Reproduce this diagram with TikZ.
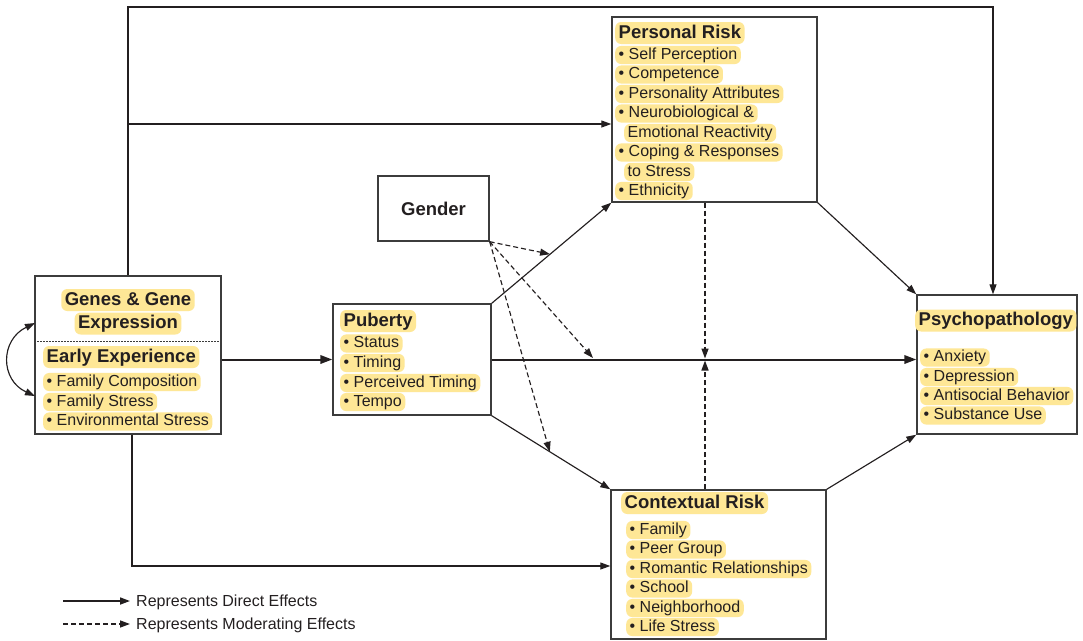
\documentclass[tikz,border=0pt]{standalone}
\usepackage{fontspec}
\setmainfont{Liberation Sans}
\usetikzlibrary{arrows.meta,calc}
\definecolor{hlc}{RGB}{254,231,150}
\definecolor{ink}{RGB}{35,31,32}
\definecolor{edge}{RGB}{60,60,60}
\begin{document}
\begin{tikzpicture}[x=1pt,y=-1pt,
  box/.style={draw=edge,line width=1.4pt,inner sep=0pt,fill=white},
  hl/.style={fill=hlc,rounded corners=6pt,inner xsep=3.5pt,inner ysep=0.8pt,
    text height=12.5pt,text depth=4pt,anchor=west,
    font=\fontsize{16}{19}\selectfont,text=ink},
  hh/.style={hl,font=\fontsize{18.5}{22}\selectfont\bfseries,
    text height=14.5pt,text depth=4.5pt,inner ysep=1.5pt},
  conn/.style={draw=ink,line width=1.15pt,-{Triangle[length=10pt,width=7pt]}},
  main/.style={conn,line width=2pt,-{Triangle[length=12pt,width=8.5pt]}},
  modr/.style={conn,dash pattern=on 5pt off 3pt},
  legtext/.style={anchor=west,inner sep=0pt,font=\fontsize{16}{19}\selectfont,text=ink}]
\useasboundingbox (0,0) rectangle (1083,640);

% boxes
\node[box,minimum width=186pt,minimum height=158pt] (genes) at (128,355) {};
\node[box,minimum width=111pt,minimum height=65pt,
      font=\fontsize{18.5}{22}\selectfont\bfseries,text=ink] (gender) at (433.5,208.5) {Gender};
\node[box,minimum width=158pt,minimum height=111pt] (puberty) at (412,359.5) {};
\node[box,minimum width=205pt,minimum height=185pt] (personal) at (714.5,109.5) {};
\node[box,minimum width=215pt,minimum height=149pt] (contextual) at (718.5,564.5) {};
\node[box,minimum width=160pt,minimum height=139pt] (psycho) at (997,364.5) {};

% genes box content
\node[hh,anchor=center] (g1) at (128,300) {Genes \& Gene};
\node[hh,anchor=center] (g2) at (128,323.5) {Expression};
\draw[edge,line width=1pt,dash pattern=on 1.5pt off 1.5pt] (genes.west |- 0,341) coordinate (dl) -- (dl -| genes.east);
\node[hh] (g3) at (43,357) {Early Experience};
\node[hl] (g4) at (43,382) {• Family Composition};
\node[hl] (g5) at (43,402) {• Family Stress};
\node[hl] (g6) at (43,421.5) {• Environmental Stress};

% puberty content
\node[hh] (p0) at (340,321) {Puberty};
\node[hl] (p1) at (340,343.5) {• Status};
\node[hl] (p2) at (340,363) {• Timing};
\node[hl] (p3) at (340,383) {• Perceived Timing};
\node[hl] (p4) at (340,402) {• Tempo};

% personal risk content
\node[hh] (r0) at (615,33) {Personal Risk};
\node[hl] (r1) at (615,55) {• Self Perception};
\node[hl] (r2) at (615,74.5) {• Competence};
\node[hl] (r3) at (615,94) {• Personality Attributes};
\node[hl] (r4) at (615,113.5) {• Neurobiological \&};
\node[hl] (r5) at (624,133) {Emotional Reactivity};
\node[hl] (r6) at (615,152.5) {• Coping \& Responses};
\node[hl] (r7) at (624,172) {to Stress};
\node[hl] (r8) at (615,191) {• Ethnicity};

% contextual risk content
\node[hh] (c0) at (621,503) {Contextual Risk};
\node[hl] (c1) at (626,530) {• Family};
\node[hl] (c2) at (626,549.5) {• Peer Group};
\node[hl] (c3) at (626,569) {• Romantic Relationships};
\node[hl] (c4) at (626,588.5) {• School};
\node[hl] (c5) at (626,608) {• Neighborhood};
\node[hl] (c6) at (626,627) {• Life Stress};

% psychopathology content
\node[hh] (s0) at (915,320.5) {Psychopathology};
\node[hl] (s1) at (920,357.5) {• Anxiety};
\node[hl] (s2) at (920,377) {• Depression};
\node[hl] (s3) at (920,396) {• Antisocial Behavior};
\node[hl] (s4) at (920,415.5) {• Substance Use};

% direct effects
\coordinate (tr) at (993,7);
\draw[conn] (genes.north) |- (tr) -- (tr |- psycho.north);
\coordinate (bp) at (128,124);
\draw[conn] (bp) -- (bp -| personal.west);
\coordinate (bc) at (132,566);
\draw[conn] (bc |- genes.south) -- (bc) -- (bc -| contextual.west);
\draw[main] (genes.east |- puberty.west) -- (puberty.west);
\draw[main] (puberty.east) -- (puberty.east -| psycho.west);
\draw[conn] (puberty.north east) -- (personal.south west);
\draw[conn] (puberty.south east) -- (contextual.north west);
\draw[conn] (personal.south east) -- (psycho.north west);
\draw[conn] (contextual.north east) -- (psycho.south west);
\coordinate (ca) at (35,323);
\coordinate (cb) at (35,396);
\draw[draw=ink,line width=1.15pt,{Triangle[length=10pt,width=7pt]}-{Triangle[length=10pt,width=7pt]}]
  (ca) .. controls (0,340) and (0,380) .. (cb);

% moderating effects
\coordinate (mx) at (705,359.5);
\draw[modr,line width=1.5pt] (personal.south -| mx) -- ($(mx)+(0,-1)$);
\draw[modr,line width=1.5pt] (contextual.north -| mx) -- ($(mx)+(0,1)$);
\coordinate (t1) at ($(puberty.north east)!0.488!(personal.south west)$);
\coordinate (t2) at (593,358);
\coordinate (t3) at ($(puberty.south east)!0.49!(contextual.north west)$);
\draw[modr] (gender.south east) -- (t1);
\draw[modr] (gender.south east) -- (t2);
\draw[modr] (gender.south east) -- (t3);

% legend
\node[legtext] (leg1) at (136,602) {Represents Direct Effects};
\node[legtext] (leg2) at (136,625) {Represents Moderating Effects};
\coordinate (la1) at (63,601);
\coordinate (la2) at (63,624);
\draw[conn,line width=1.6pt] (la1) -- (la1 -| 130,0);
\draw[modr,line width=1.4pt] (la2) -- (la2 -| 130,0);
\end{tikzpicture}
\end{document}
